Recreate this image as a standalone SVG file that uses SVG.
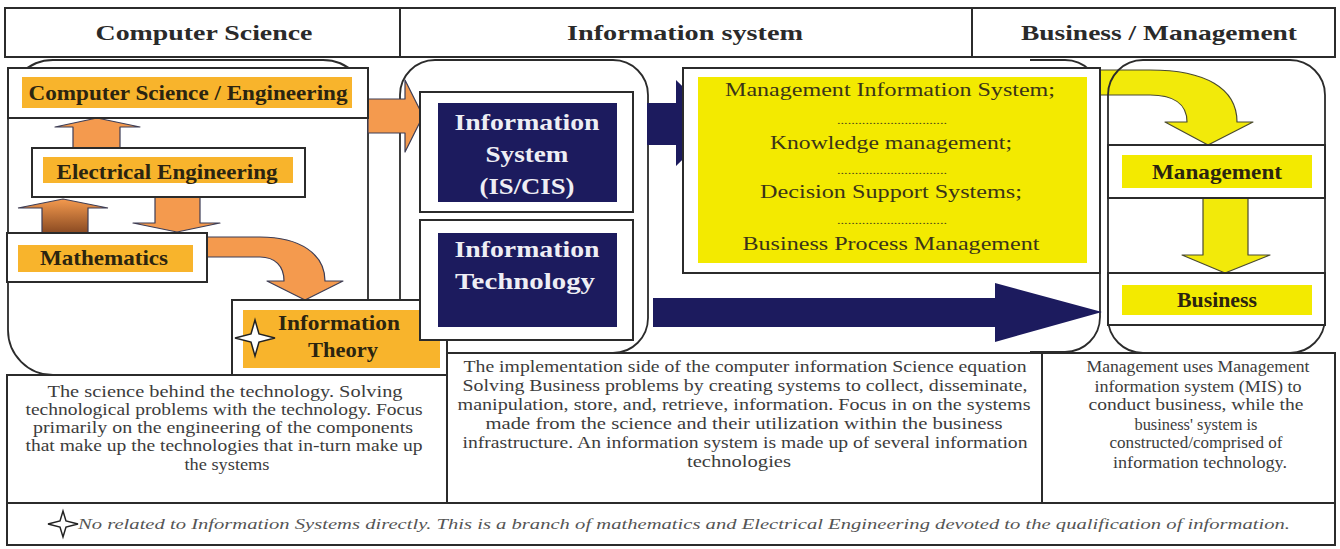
<svg xmlns="http://www.w3.org/2000/svg" width="1340" height="549" viewBox="0 0 1340 549">
<defs>
<style>
.bx{fill:#fff;stroke:#2b2b2b;stroke-width:2}
.pn{fill:none;stroke:#2b2b2b;stroke-width:1.8}
.lo{fill:#F8B42C}
.ly{fill:#F3EA00}
.nv{fill:#1C1B5E}
.ao{fill:#F49A4E;stroke:#3d3d55;stroke-width:1.2;stroke-linejoin:round}
.ay{fill:#F2EA0A;stroke:#4a4a30;stroke-width:1.2;stroke-linejoin:round}
.an{fill:#1C1B5E}
.hd{font-family:"Liberation Serif",serif;font-weight:bold;font-size:22px;fill:#2a2a2a;text-anchor:middle}
.lb{font-family:"Liberation Serif",serif;font-weight:bold;font-size:21px;fill:#2b2410;text-anchor:middle}
.lw{font-family:"Liberation Serif",serif;font-weight:bold;font-size:23px;fill:#eeeef4;text-anchor:middle}
.ym{font-family:"Liberation Serif",serif;font-size:18px;fill:#3a3418;text-anchor:middle}
.dt{font-family:"Liberation Serif",serif;font-size:11px;fill:#4a4418;text-anchor:middle}
.tx{font-family:"Liberation Serif",serif;font-size:16px;fill:#3c3c3c;text-anchor:middle}
.ft{font-family:"Liberation Serif",serif;font-style:italic;font-size:15px;fill:#555}
.star{fill:#fff;stroke:#222;stroke-width:1.5;stroke-linejoin:miter}
</style>
<linearGradient id="gbr" x1="0" y1="0" x2="0" y2="1">
<stop offset="0" stop-color="#F49A4E"/><stop offset="1" stop-color="#8A4A22"/>
</linearGradient>
</defs>
<rect width="1340" height="549" fill="#fff"/>

<g id="header">
<rect x="5" y="8" width="1330" height="49" class="bx"/>
<line x1="400" y1="8" x2="400" y2="57" stroke="#2b2b2b" stroke-width="2"/>
<line x1="972" y1="8" x2="972" y2="57" stroke="#2b2b2b" stroke-width="2"/>
<text x="204" y="40" class="hd" textLength="217" lengthAdjust="spacingAndGlyphs">Computer Science</text>
<text x="685" y="40" class="hd" textLength="236" lengthAdjust="spacingAndGlyphs">Information system</text>
<text x="1159" y="40" class="hd" textLength="276" lengthAdjust="spacingAndGlyphs">Business / Management</text>
</g>

<g id="panels">
<rect x="8" y="60" width="360" height="315" rx="45" class="pn"/>
<rect x="400" y="60" width="248" height="293" rx="35" class="pn"/>
<path d="M1030 60 H1065 A35 35 0 0 1 1100 95 V317 A35 35 0 0 1 1065 352 H1030" class="pn"/>
</g>

<g id="connectors">
<path class="ao" d="M368 99 H405 V80 L423 116 L405 152 V133 H368 Z"/>
<path class="ao" d="M73 148 V127 H55 L97 118 L140 127 H120 V148 Z"/>
<path d="M42 233 V208 H18 L63 199 L108 208 H88 V233 Z" fill="url(#gbr)" stroke="#3d3d55" stroke-width="1.2"/>
<path class="ao" d="M155 197 V223 H133 L177 232 L220 223 H200 V197 Z"/>
<path class="ao" d="M207 237 H260 C300 237 325 254 325 281 H343 L305 300 L267 281 H284 C284 266 275 257 260 257 H207 Z"/>
<path class="an" d="M647 103 H676 V80 L720 123 L676 166 V145 H647 Z"/>
<path class="an" d="M653 298 H995 V283 L1102 312 L995 342 V327 H653 Z"/>
<path class="ay" d="M1095 70 H1150 C1205 70 1237 88 1237 122 H1253 L1208 145 L1165 122 H1187 C1187 103 1172 95 1150 95 H1095 Z"/>
<path class="ay" d="M1203 198 V255 H1182 L1225 273 L1270 255 H1248 V198 Z"/>
</g>

<rect id="panel-bm" x="1108" y="60" width="217" height="293" rx="35" class="pn"/>

<g id="node-cse">
<rect x="8" y="68" width="360" height="50" class="bx"/>
<rect x="22" y="77" width="330" height="31" class="lo"/>
<text x="188" y="100" class="lb" textLength="319" lengthAdjust="spacingAndGlyphs">Computer Science / Engineering</text>
</g>
<g id="node-ee">
<rect x="32" y="148" width="273" height="49" class="bx"/>
<rect x="43" y="157" width="250" height="26" class="lo"/>
<text x="167" y="179" class="lb" textLength="221" lengthAdjust="spacingAndGlyphs">Electrical Engineering</text>
</g>
<g id="node-math">
<rect x="7" y="233" width="200" height="49" class="bx"/>
<rect x="18" y="245" width="175" height="27" class="lo"/>
<text x="104" y="265" class="lb" textLength="128" lengthAdjust="spacingAndGlyphs">Mathematics</text>
</g>
<g id="node-it-theory">
<rect x="232" y="300" width="215" height="75" class="bx"/>
<rect x="243" y="310" width="197" height="58" class="lo"/>
<text x="339" y="330" class="lb" textLength="122" lengthAdjust="spacingAndGlyphs">Information</text>
<text x="343" y="357" class="lb" textLength="70" lengthAdjust="spacingAndGlyphs">Theory</text>
<path class="star" d="M235 338 L251 334 L255 320 L259 334 L275 338 L259 342 L255 356 L251 342 Z"/>
</g>
<g id="node-is">
<rect x="420" y="92" width="213" height="120" class="bx"/>
<rect x="438" y="103" width="179" height="99" class="nv"/>
<text x="527" y="130" class="lw" textLength="145" lengthAdjust="spacingAndGlyphs">Information</text>
<text x="527" y="162" class="lw" textLength="83" lengthAdjust="spacingAndGlyphs">System</text>
<text x="527" y="194" class="lw" textLength="95" lengthAdjust="spacingAndGlyphs">(IS/CIS)</text>
</g>
<g id="node-it">
<rect x="420" y="220" width="213" height="120" class="bx"/>
<rect x="438" y="233" width="179" height="94" class="nv"/>
<text x="527" y="257" class="lw" textLength="145" lengthAdjust="spacingAndGlyphs">Information</text>
<text x="525" y="289" class="lw" textLength="140" lengthAdjust="spacingAndGlyphs">Technology</text>
</g>
<g id="node-mis">
<rect x="683" y="68" width="417" height="205" class="bx"/>
<rect x="698" y="77" width="389" height="186" class="ly"/>
<text x="890" y="96" class="ym" textLength="330" lengthAdjust="spacingAndGlyphs">Management Information System;</text>
<text x="892" y="124" class="dt" textLength="110" lengthAdjust="spacingAndGlyphs">...............................</text>
<text x="891" y="149" class="ym" textLength="242" lengthAdjust="spacingAndGlyphs">Knowledge management;</text>
<text x="892" y="174" class="dt" textLength="110" lengthAdjust="spacingAndGlyphs">...............................</text>
<text x="891" y="198" class="ym" textLength="262" lengthAdjust="spacingAndGlyphs">Decision Support Systems;</text>
<text x="892" y="224" class="dt" textLength="110" lengthAdjust="spacingAndGlyphs">...............................</text>
<text x="891" y="250" class="ym" textLength="297" lengthAdjust="spacingAndGlyphs">Business Process Management</text>
</g>
<g id="node-management">
<rect x="1108" y="145" width="217" height="53" class="bx"/>
<rect x="1122" y="155" width="190" height="33" class="ly"/>
<text x="1217" y="179" class="lb" textLength="130" lengthAdjust="spacingAndGlyphs">Management</text>
</g>
<g id="node-business">
<rect x="1108" y="273" width="217" height="52" class="bx"/>
<rect x="1122" y="285" width="190" height="30" class="ly"/>
<text x="1217" y="307" class="lb" textLength="80" lengthAdjust="spacingAndGlyphs">Business</text>
</g>

<g id="desc-cs">
<rect x="7" y="375" width="440" height="128" class="bx"/>
<text class="tx" x="225" y="397" textLength="355" lengthAdjust="spacingAndGlyphs">The science behind the technology. Solving</text>
<text class="tx" x="224" y="415" textLength="397" lengthAdjust="spacingAndGlyphs">technological problems with the technology. Focus</text>
<text class="tx" x="223" y="433" textLength="380" lengthAdjust="spacingAndGlyphs">primarily on the engineering of the components</text>
<text class="tx" x="224" y="451" textLength="397" lengthAdjust="spacingAndGlyphs">that make up the technologies that in-turn make up</text>
<text class="tx" x="227" y="470" textLength="85" lengthAdjust="spacingAndGlyphs">the systems</text>
</g>
<g id="desc-is">
<rect x="447" y="353" width="595" height="150" class="bx"/>
<text class="tx" x="745" y="372" textLength="563" lengthAdjust="spacingAndGlyphs">The implementation side of the computer information Science equation</text>
<text class="tx" x="745" y="391" textLength="565" lengthAdjust="spacingAndGlyphs">Solving Business problems by creating systems to collect, disseminate,</text>
<text class="tx" x="744" y="410" textLength="573" lengthAdjust="spacingAndGlyphs">manipulation, store, and, retrieve, information. Focus in on the systems</text>
<text class="tx" x="744" y="429" textLength="517" lengthAdjust="spacingAndGlyphs">made from the science and their utilization within the business</text>
<text class="tx" x="745" y="448" textLength="565" lengthAdjust="spacingAndGlyphs">infrastructure. An information system is made up of several information</text>
<text class="tx" x="739" y="467" textLength="104" lengthAdjust="spacingAndGlyphs">technologies</text>
</g>
<g id="desc-bm">
<rect x="1042" y="353" width="293" height="150" class="bx"/>
<text class="tx" x="1198" y="372" textLength="223" lengthAdjust="spacingAndGlyphs">Management uses Management</text>
<text class="tx" x="1198" y="392" textLength="207" lengthAdjust="spacingAndGlyphs">information system (MIS) to</text>
<text class="tx" x="1196" y="410" textLength="215" lengthAdjust="spacingAndGlyphs">conduct business, while the</text>
<text class="tx" x="1196" y="430" textLength="123" lengthAdjust="spacingAndGlyphs">business' system is</text>
<text class="tx" x="1196" y="448" textLength="173" lengthAdjust="spacingAndGlyphs">constructed/comprised of</text>
<text class="tx" x="1200" y="468" textLength="174" lengthAdjust="spacingAndGlyphs">information technology.</text>
</g>
<g id="footnote">
<rect x="7" y="503" width="1328" height="42" class="bx"/>
<path class="star" d="M48 524 L60 521 L63 511 L66 521 L78 524 L66 527 L63 537 L60 527 Z"/>
<text class="ft" x="78" y="529" textLength="1212" lengthAdjust="spacingAndGlyphs">No related to Information Systems directly. This is a branch of mathematics and Electrical Engineering devoted to the qualification of information.</text>
</g>
</svg>
